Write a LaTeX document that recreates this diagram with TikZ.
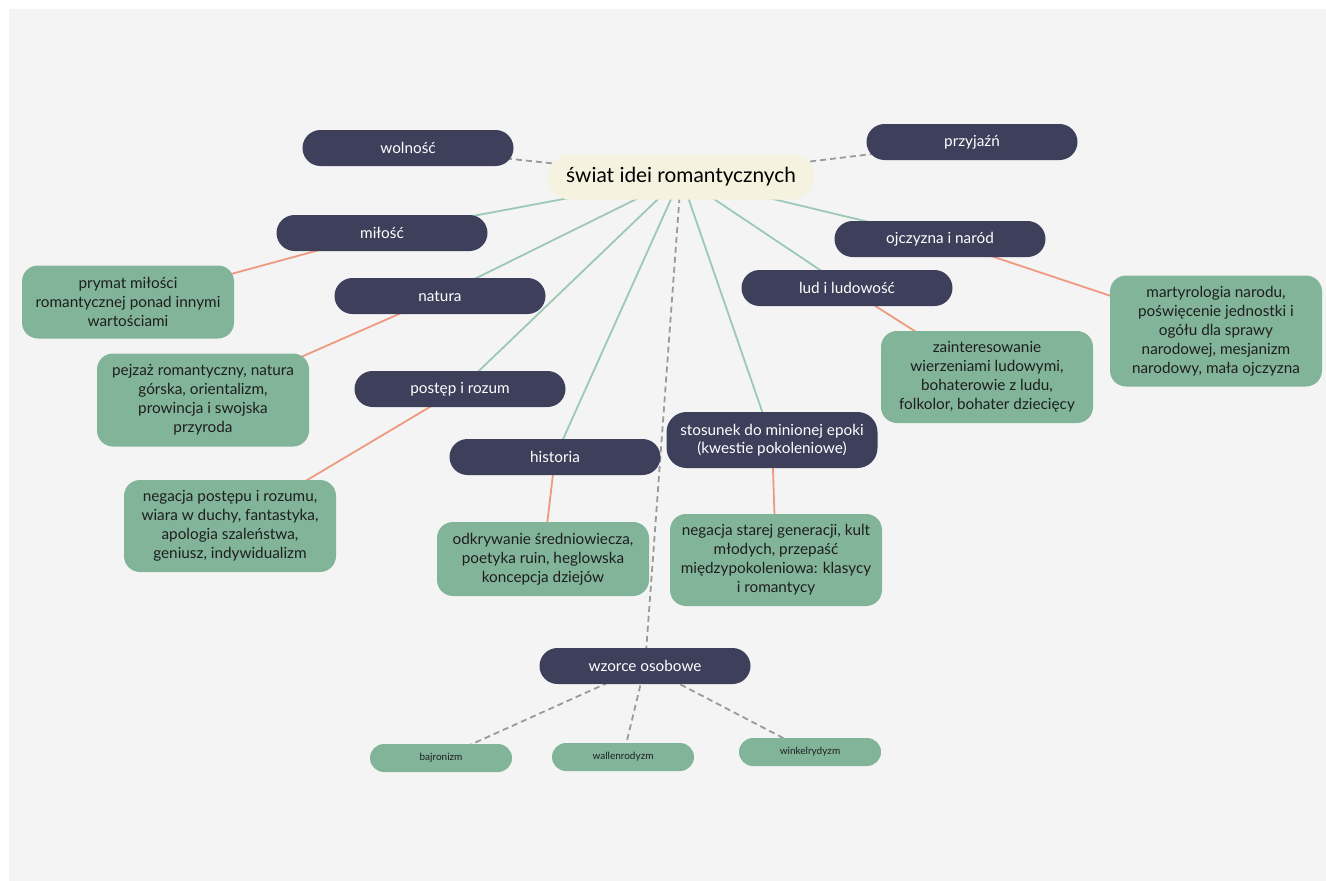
\documentclass[tikz,border=0pt]{standalone}
\usepackage{fontspec}
\setmainfont{Lato}
\usetikzlibrary{backgrounds}
\pgfdeclarelayer{bg}
\pgfdeclarelayer{edges}
\pgfsetlayers{bg,edges,main}
\definecolor{navy}{HTML}{3D3F5B}
\definecolor{sage}{HTML}{82B49A}
\definecolor{cream}{HTML}{F5F2DF}
\definecolor{teal}{HTML}{9CC9B5}
\definecolor{salmon}{HTML}{EE9A80}
\definecolor{dgray}{HTML}{9A9A9A}
\definecolor{paper}{HTML}{F4F4F4}
\definecolor{ink}{HTML}{1E1E1E}
\tikzset{
  topic/.style={fill=navy, text=white, rounded corners=18pt, minimum width=211pt, minimum height=36pt, inner sep=0pt, align=center, font=\fontsize{15.3}{18.5}\selectfont},
  center/.style={fill=cream, text=black, rounded corners=22pt, minimum width=266pt, minimum height=45pt, inner sep=0pt, font=\fontsize{20.8}{24}\selectfont},
  info/.style={fill=sage, text=ink, rounded corners=16pt, minimum width=212pt, inner sep=0pt, align=center, font=\fontsize{15.3}{19}\selectfont},
  small/.style={fill=sage, text=ink, rounded corners=14pt, minimum width=142pt, minimum height=28pt, inner sep=0pt, font=\fontsize{10}{12}\selectfont},
  tline/.style={draw=teal, line width=1.8pt},
  sline/.style={draw=salmon, line width=1.8pt},
  gline/.style={draw=dgray, line width=1.8pt, dash pattern=on 6pt off 4pt},
}
\begin{document}
\begin{tikzpicture}[x=1pt,y=-1pt]
\begin{pgfonlayer}{bg}
\fill[white] (0,0) rectangle (1326,881);
\fill[paper] (9,9) rectangle (1326,881);
\end{pgfonlayer}
\useasboundingbox (0,0) rectangle (1326,881);

\node[center] (c) at (681,177) {świat idei romantycznych};

\node[topic] (wol) at (408,148) {wolność};
\node[topic] (prz) at (972,142) {przyjaźń};
\node[topic] (mil) at (382,233) {miłość};
\node[topic] (ojc) at (940,239) {ojczyzna i naród};
\node[topic] (nat) at (440,296) {natura};
\node[topic] (lud) at (847,288) {lud i ludowość};
\node[topic] (pos) at (460,389) {postęp i rozum};
\node[topic] (his) at (555,457) {historia};
\node[topic, minimum height=56pt, rounded corners=20pt] (sto) at (772,440) {stosunek do minionej epoki\\(kwestie pokoleniowe)};
\node[topic] (wzo) at (645,666) {wzorce osobowe};

\node[info, minimum height=73pt] (i1) at (128,302) {prymat miłości\\romantycznej ponad innymi\\wartościami};
\node[info, minimum height=93pt] (i2) at (203,400) {pejzaż romantyczny, natura\\górska, orientalizm,\\prowincja i swojska\\przyroda};
\node[info, minimum height=92pt] (i3) at (230,526) {negacja postępu i rozumu,\\wiara w duchy, fantastyka,\\apologia szaleństwa,\\geniusz, indywidualizm};
\node[info, minimum height=74pt] (i4) at (543,559) {odkrywanie średniowiecza,\\poetyka ruin, heglowska\\koncepcja dziejów};
\node[info, minimum height=92pt] (i5) at (776,560) {negacja starej generacji, kult\\młodych, przepaść\\międzypokoleniowa: klasycy\\i romantycy};
\node[info, minimum height=92pt] (i6) at (987,377) {zainteresowanie\\wierzeniami ludowymi,\\bohaterowie z ludu,\\folkolor, bohater dziecięcy};
\node[info, minimum height=111pt] (i7) at (1216,331) {martyrologia narodu,\\poświęcenie jednostki i\\ogółu dla sprawy\\narodowej, mesjanizm\\narodowy, mała ojczyzna};

\node[small] (b1) at (441,758) {bajronizm};
\node[small] (b2) at (623,757) {wallenrodyzm};
\node[small] (b3) at (810,752) {winkelrydyzm};

\begin{pgfonlayer}{edges}
\draw[gline] (c.center) -- (wol.center);
\draw[gline] (c.center) -- (prz.center);
\draw[gline] (c.center) -- (wzo.center);
\draw[gline] (wzo.center) -- (b1.center);
\draw[gline] (wzo.center) -- (b2.center);
\draw[gline] (wzo.center) -- (b3.center);
\draw[tline] (c.center) -- (mil.center);
\draw[tline] (c.center) -- (ojc.center);
\draw[tline] (c.center) -- (nat.center);
\draw[tline] (c.center) -- (lud.center);
\draw[tline] (c.center) -- (pos.center);
\draw[tline] (c.center) -- (his.center);
\draw[tline] (c.center) -- (sto.center);
\draw[sline] (mil.center) -- (i1.center);
\draw[sline] (nat.center) -- (i2.center);
\draw[sline] (pos.center) -- (i3.center);
\draw[sline] (his.center) -- (i4.center);
\draw[sline] (sto.center) -- (i5.center);
\draw[sline] (lud.center) -- (i6.center);
\draw[sline] (ojc.center) -- (i7.center);
\end{pgfonlayer}
\end{tikzpicture}
\end{document}
